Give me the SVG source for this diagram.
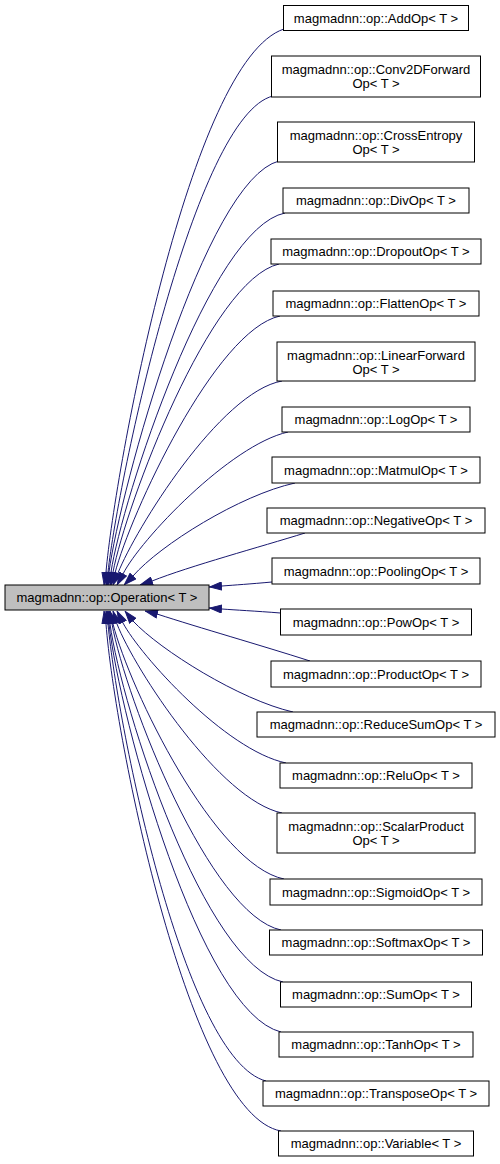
<svg xmlns="http://www.w3.org/2000/svg" width="500" height="1164" viewBox="0 0 500 1164">
<style>
  .node rect { fill: #ffffff; stroke: #000000; stroke-width: 1; }
  .base rect { fill: #bfbfbf; stroke: #000000; stroke-width: 1; }
  text { font-family: "Liberation Sans", Arial, sans-serif; font-size: 13px; text-anchor: middle; fill: #000000; }
  .edges path { fill: none; stroke: #191970; stroke-width: 1; marker-end: url(#arrow); }
</style>
<defs>
  <marker id="arrow" viewBox="0 0 13 9" refX="13" refY="4.5" markerWidth="13" markerHeight="9" markerUnits="userSpaceOnUse" orient="auto">
    <path d="M0.5,0.5 L12.5,4.5 L0.5,8.5 Z" fill="#191970" stroke="#191970" stroke-width="1"/>
  </marker>
</defs>
<rect width="500" height="1164" fill="#ffffff"/>

<g class="edges" id="connectors">
  <path d="M284,29 C190,60 115,470 106,572 L104,585"/>
  <path d="M273,96 C195,115 118,480 108,572 L106,585"/>
  <path d="M279,161 C205,180 120,490 109,572 L107,585"/>
  <path d="M285,213 C210,228 122,500 111,572 L108,585"/>
  <path d="M279,264 C210,280 126,505 113,572 L110,585"/>
  <path d="M280,316 C215,330 130,515 115,573 L111,585"/>
  <path d="M282,381 C220,392 135,530 118,573 L113,585"/>
  <path d="M288,432 C230,445 140,540 123,574 L117,585"/>
  <path d="M295,483 C240,495 160,545 133,576 L124,585"/>
  <path d="M305,533 C260,547 190,566 152,581 L140,585"/>
  <path d="M272,582 C250,584 235,585 222,586 L209,587"/>
  <path d="M280.5,613 C255,611 235,610 222,609 L209,608"/>
  <path d="M310,661 C260,645 200,628 157,614 L145,611"/>
  <path d="M293,712 C240,700 160,650 133,621 L125,611"/>
  <path d="M286,763 C225,750 140,655 123,623 L117,611"/>
  <path d="M282,813 C220,800 135,670 117,624 L113,611"/>
  <path d="M284,879 C215,865 130,690 113,624 L110,611"/>
  <path d="M281,930 C210,915 126,700 112,624 L109,611"/>
  <path d="M283,982 C205,965 122,710 110,624 L108,611"/>
  <path d="M281,1032 C200,1012 120,720 109,624 L107,611"/>
  <path d="M266,1081 C185,1060 118,730 108,624 L106,611"/>
  <path d="M281,1131 C190,1115 115,740 106,624 L104,611"/>
</g>

<g class="base" id="node-operation">
  <rect x="5" y="585" width="204" height="25"/>
  <text x="107" y="602">magmadnn::op::Operation&lt; T &gt;</text>
</g>

<g class="node" id="node-addop">
  <rect x="283.5" y="5.5" width="185" height="25"/>
  <text x="376" y="22.5">magmadnn::op::AddOp&lt; T &gt;</text>
</g>
<g class="node" id="node-conv2dforwardop">
  <rect x="271.5" y="56" width="209" height="41"/>
  <text x="376" y="74">magmadnn::op::Conv2DForward</text>
  <text x="376" y="88">Op&lt; T &gt;</text>
</g>
<g class="node" id="node-crossentropyop">
  <rect x="277.5" y="122" width="197" height="40"/>
  <text x="376" y="140">magmadnn::op::CrossEntropy</text>
  <text x="376" y="154">Op&lt; T &gt;</text>
</g>
<g class="node" id="node-divop">
  <rect x="283" y="188" width="186" height="25"/>
  <text x="376" y="205">magmadnn::op::DivOp&lt; T &gt;</text>
</g>
<g class="node" id="node-dropoutop">
  <rect x="271" y="239" width="210" height="25"/>
  <text x="376" y="256">magmadnn::op::DropoutOp&lt; T &gt;</text>
</g>
<g class="node" id="node-flattenop">
  <rect x="273" y="291" width="206" height="25"/>
  <text x="376" y="308">magmadnn::op::FlattenOp&lt; T &gt;</text>
</g>
<g class="node" id="node-linearforwardop">
  <rect x="277" y="342" width="198" height="39"/>
  <text x="376" y="360">magmadnn::op::LinearForward</text>
  <text x="376" y="374">Op&lt; T &gt;</text>
</g>
<g class="node" id="node-logop">
  <rect x="282" y="407" width="188" height="25"/>
  <text x="376" y="424">magmadnn::op::LogOp&lt; T &gt;</text>
</g>
<g class="node" id="node-matmulop">
  <rect x="272" y="457" width="208" height="26"/>
  <text x="376" y="474.5">magmadnn::op::MatmulOp&lt; T &gt;</text>
</g>
<g class="node" id="node-negativeop">
  <rect x="267" y="508" width="218" height="25"/>
  <text x="376" y="525">magmadnn::op::NegativeOp&lt; T &gt;</text>
</g>
<g class="node" id="node-poolingop">
  <rect x="272" y="558" width="208" height="26"/>
  <text x="376" y="575.5">magmadnn::op::PoolingOp&lt; T &gt;</text>
</g>
<g class="node" id="node-powop">
  <rect x="280.5" y="609" width="191" height="26"/>
  <text x="376" y="626.5">magmadnn::op::PowOp&lt; T &gt;</text>
</g>
<g class="node" id="node-productop">
  <rect x="271" y="661" width="210" height="26"/>
  <text x="376" y="678.5">magmadnn::op::ProductOp&lt; T &gt;</text>
</g>
<g class="node" id="node-reducesumop">
  <rect x="257" y="712" width="238" height="25"/>
  <text x="376" y="729">magmadnn::op::ReduceSumOp&lt; T &gt;</text>
</g>
<g class="node" id="node-reluop">
  <rect x="280" y="763" width="192" height="25"/>
  <text x="376" y="780">magmadnn::op::ReluOp&lt; T &gt;</text>
</g>
<g class="node" id="node-scalarproductop">
  <rect x="277" y="813" width="198" height="40"/>
  <text x="376" y="831">magmadnn::op::ScalarProduct</text>
  <text x="376" y="845">Op&lt; T &gt;</text>
</g>
<g class="node" id="node-sigmoidop">
  <rect x="270" y="879" width="212" height="26"/>
  <text x="376" y="896.5">magmadnn::op::SigmoidOp&lt; T &gt;</text>
</g>
<g class="node" id="node-softmaxop">
  <rect x="269.5" y="930" width="213" height="25"/>
  <text x="376" y="947">magmadnn::op::SoftmaxOp&lt; T &gt;</text>
</g>
<g class="node" id="node-sumop">
  <rect x="280.5" y="982" width="191" height="25"/>
  <text x="376" y="999">magmadnn::op::SumOp&lt; T &gt;</text>
</g>
<g class="node" id="node-tanhop">
  <rect x="279" y="1032" width="194" height="25"/>
  <text x="376" y="1049">magmadnn::op::TanhOp&lt; T &gt;</text>
</g>
<g class="node" id="node-transposeop">
  <rect x="263" y="1081" width="226" height="25"/>
  <text x="376" y="1098">magmadnn::op::TransposeOp&lt; T &gt;</text>
</g>
<g class="node" id="node-variable">
  <rect x="278.5" y="1131" width="195" height="25"/>
  <text x="376" y="1148">magmadnn::op::Variable&lt; T &gt;</text>
</g>
</svg>
